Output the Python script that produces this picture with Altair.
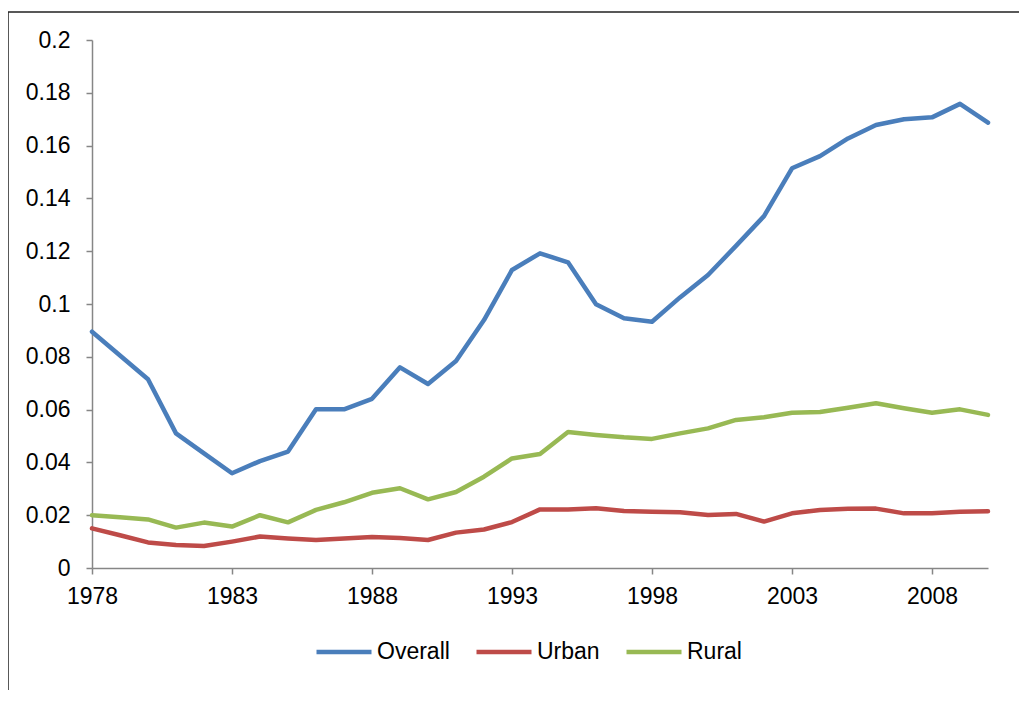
import altair as alt
import pandas as pd

years = list(range(1978, 2011))
overall = [0.0895, 0.0805, 0.0715, 0.0510, 0.0434, 0.0359, 0.0405, 0.0441, 0.0601, 0.0601,
           0.0641, 0.0760, 0.0697, 0.0784, 0.0939, 0.1129, 0.1192, 0.1158, 0.0999, 0.0946,
           0.0933, 0.1025, 0.1110, 0.1220, 0.1333, 0.1514, 0.1560, 0.1627, 0.1678, 0.1700,
           0.1707, 0.1758, 0.1687]
urban = [0.0150, 0.0124, 0.0097, 0.0087, 0.0083, 0.0100, 0.0119, 0.0112, 0.0106, 0.0112,
         0.0117, 0.0114, 0.0106, 0.0134, 0.0146, 0.0174, 0.0222, 0.0222, 0.0226, 0.0216,
         0.0213, 0.0211, 0.0201, 0.0205, 0.0176, 0.0207, 0.0220, 0.0224, 0.0225, 0.0207,
         0.0207, 0.0213, 0.0215]
rural = [0.0200, 0.0192, 0.0184, 0.0153, 0.0172, 0.0157, 0.0200, 0.0173, 0.0220, 0.0249,
         0.0285, 0.0302, 0.0260, 0.0288, 0.0346, 0.0415, 0.0432, 0.0515, 0.0504, 0.0495,
         0.0489, 0.0510, 0.0529, 0.0561, 0.0571, 0.0588, 0.0591, 0.0607, 0.0624, 0.0605,
         0.0588, 0.0601, 0.0580]

series_names = ["Overall", "Urban", "Rural"]
series_colors = ["#4A7EBB", "#BE4B48", "#98B954"]
x_tick_values = [1978, 1983, 1988, 1993, 1998, 2003, 2008]
y_tick_values = [0, 0.02, 0.04, 0.06, 0.08, 0.1, 0.12, 0.14, 0.16, 0.18, 0.2]

rows = []
for name, vals in zip(series_names, [overall, urban, rural]):
    for y, v in zip(years, vals):
        rows.append({"Year": y, "Value": v, "Series": name})
df = pd.DataFrame(rows)

FONT = "Liberation Sans"
FONT_SIZE = 23
AXIS_GREY = "#868686"

lines = alt.Chart(df).mark_line(strokeWidth=4.5, strokeJoin="round", strokeCap="round").encode(
    x=alt.X("Year:Q",
            scale=alt.Scale(domain=[1978, 2010], nice=False, zero=False),
            axis=alt.Axis(values=x_tick_values, format="d", title=None, grid=False,
                          tickSize=6, labelPadding=11, labelFlush=False)),
    y=alt.Y("Value:Q",
            scale=alt.Scale(domain=[0, 0.2], nice=False),
            axis=alt.Axis(values=y_tick_values, format=".2~f", title=None, grid=False,
                          tickSize=6, labelPadding=16)),
    color=alt.Color("Series:N",
                    scale=alt.Scale(domain=series_names, range=series_colors),
                    legend=alt.Legend(title=None, orient="none", direction="horizontal",
                                      legendX=222, legendY=582,
                                      symbolType="stroke", symbolSize=3025,
                                      symbolStrokeWidth=4.5, labelOffset=3,
                                      columnPadding=17, labelFontSize=FONT_SIZE,
                                      labelFont=FONT, labelColor="black",
                                      labelLimit=0)),
)

border = alt.Chart(pd.DataFrame({"a": [0]})).mark_rect(
    fill=None, stroke="#222222", strokeWidth=1.5
).encode(
    x=alt.value(-84), x2=alt.value(1200), y=alt.value(-28), y2=alt.value(900)
)

chart = alt.layer(border, lines).properties(
    width=896, height=528,
    autosize=alt.AutoSizeParams(type="none"),
    padding={"left": 84, "top": 32, "right": 31, "bottom": 122},
).configure_view(stroke=None).configure_axis(
    domainColor=AXIS_GREY, tickColor=AXIS_GREY, domainWidth=1.5, tickWidth=1.5,
    labelFont=FONT, labelFontSize=FONT_SIZE, labelColor="black"
)

chart.save("out.html", embed_options={"renderer": "svg", "actions": False})
